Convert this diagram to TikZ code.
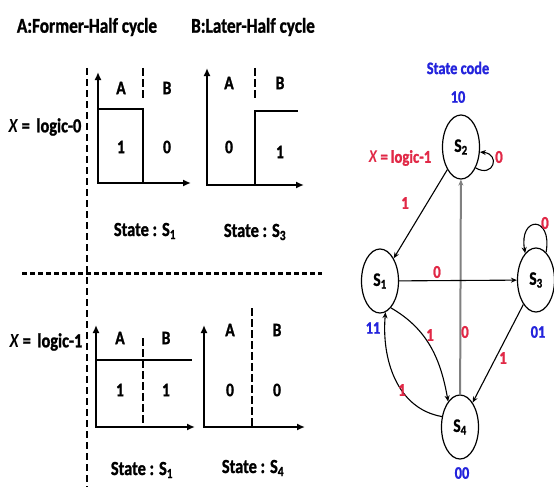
\documentclass[tikz,border=0pt]{standalone}
\usepackage{fontspec}
\setmainfont{Carlito}[FakeStretch=0.82, BoldFeatures={FakeBold=1.2}]
\usetikzlibrary{arrows.meta,shapes.geometric}
\definecolor{lblred}{RGB}{225,40,70}
\definecolor{lblblue}{RGB}{35,35,220}
\begin{document}
\begin{tikzpicture}[x=1pt,y=-1pt,
  title/.style={font=\bfseries\fontsize{21}{24}\selectfont, inner sep=0},
  txt/.style={font=\bfseries\fontsize{19}{22}\selectfont, inner sep=0},
  stl/.style={font=\bfseries\fontsize{20}{22}\selectfont, inner sep=0},
  xlab/.style={font=\bfseries\fontsize{20}{22}\selectfont, inner sep=0},
  axes/.style={line width=2.4pt, {Latex[length=8pt,width=7pt]}-{Latex[length=8pt,width=7pt]}},
  sig/.style={line width=2.2pt},
  thinsig/.style={line width=1.5pt},
  divider/.style={line width=1.5pt, dash pattern=on 8pt off 3pt},
  statenode/.style={ellipse, draw, line width=1.2pt, minimum width=37pt, minimum height=64pt, inner sep=0, font=\bfseries\fontsize{19}{21}\selectfont},
  edge/.style={line width=1.1pt, -{Stealth[length=6pt,width=5pt]}},
  rl/.style={text=lblred, font=\bfseries\fontsize{18}{20}\selectfont, inner sep=0},
  bl/.style={text=lblblue, font=\bfseries\fontsize{17.5}{20}\selectfont, inner sep=0}]
\useasboundingbox[fill=white] (0,0) rectangle (554,487);

% titles
\node[title] (tA) at (87,27) {A:Former-Half cycle};
\node[title] (tB) at (253,27) {B:Later-Half cycle};

% separators
\draw[line width=1.6pt, dash pattern=on 7pt off 4pt] (87,68) -- (87,487);
\draw[line width=3pt, dash pattern=on 5pt off 3pt] (22,273) -- (322,273);

% X labels
\node[xlab] (x0) at (45,127) {\textit{X}\,=\,\,logic-0};
\node[xlab] (x1) at (46,342) {\textit{X}\,=\,\,logic-1};

% top-left graph
\draw[axes] (98,72) -- (98,183) -- (191,183);
\draw[divider] (143,68) -- (143,100);
\draw[sig] (98,109) -- (143,109) -- (143,183);
\node[txt] (a1) at (121,88) {A};
\node[txt] (b1) at (167,88) {B};
\node[txt] (v11) at (121,147) {1};
\node[txt] (v12) at (167,147) {0};
\node[stl] (st1) at (145,231) {State : S\textsubscript{1}};

% top-right graph
\draw[axes] (207,68) -- (207,185) -- (304,185);
\draw[divider] (255,68) -- (255,100);
\draw[sig] (255,185) -- (255,111) -- (298,111);
\node[txt] (a2) at (229,83) {A};
\node[txt] (b2) at (280,83) {B};
\node[txt] (v21) at (229,147) {0};
\node[txt] (v22) at (280,152) {1};
\node[stl] (st2) at (255,232) {State : S\textsubscript{3}};

% bottom-left graph
\draw[axes] (96,325) -- (96,427) -- (195,427);
\draw[thinsig] (96,360) -- (192,360);
\draw[divider] (143,338) -- (143,427);
\node[txt] (a3) at (120,338) {A};
\node[txt] (b3) at (166,338) {B};
\node[txt] (v31) at (120,390) {1};
\node[txt] (v32) at (166,390) {1};
\node[stl] (st3) at (142,470) {State : S\textsubscript{1}};

% bottom-right graph
\draw[axes] (204,325) -- (204,427) -- (305,427);
\draw[divider] (252,308) -- (252,427);
\node[txt] (a4) at (230,330) {A};
\node[txt] (b4) at (277,330) {B};
\node[txt] (v41) at (230,390) {0};
\node[txt] (v42) at (277,390) {0};
\node[stl] (st4) at (253,468) {State : S\textsubscript{4}};

% state diagram
\node[statenode] (S2) at (461,147) {S\textsubscript{2}};
\node[statenode] (S1) at (380,281) {S\textsubscript{1}};
\node[statenode] (S3) at (536,280) {S\textsubscript{3}};
\node[statenode] (S4) at (460,427) {S\textsubscript{4}};

\draw[edge, draw=gray, line width=2pt] (S4) -- (S2);
\draw[edge] (S2) -- (S1);
\draw[edge] (S1) -- (S3);
\draw[edge] (S3) -- (S4);
\draw[edge] (S1.-68) to[out=-30, in=100] (S4.115);
\draw[edge] (S4.150) to[out=170, in=-95] (S1.-80);
\draw[edge] (S2.-55) .. controls +(-30:21pt) and +(-5:21pt) .. (S2.-15);
\draw[edge] (S3.70) .. controls +(80:38pt) and +(100:38pt) .. (S3.112);

\node[bl] (code) at (458,68) {State code};
\node[bl] (c10) at (458,97) {10};
\node[bl] (c11) at (373,328) {11};
\node[bl] (c01) at (538,332) {01};
\node[bl] (c00) at (462,473) {00};
\node[rl] (xl1) at (400,158) {\textit{X}\,=\,logic-1};
\node[rl] (l1) at (499,157) {0};
\node[rl] (l2) at (405,203) {1};
\node[rl] (l3) at (545,223) {0};
\node[rl] (l4) at (437,272) {0};
\node[rl] (l5) at (430,335) {1};
\node[rl] (l6) at (465,332) {0};
\node[rl] (l7) at (503,358) {1};
\node[rl] (l8) at (402,390) {1};
\end{tikzpicture}
\end{document}
